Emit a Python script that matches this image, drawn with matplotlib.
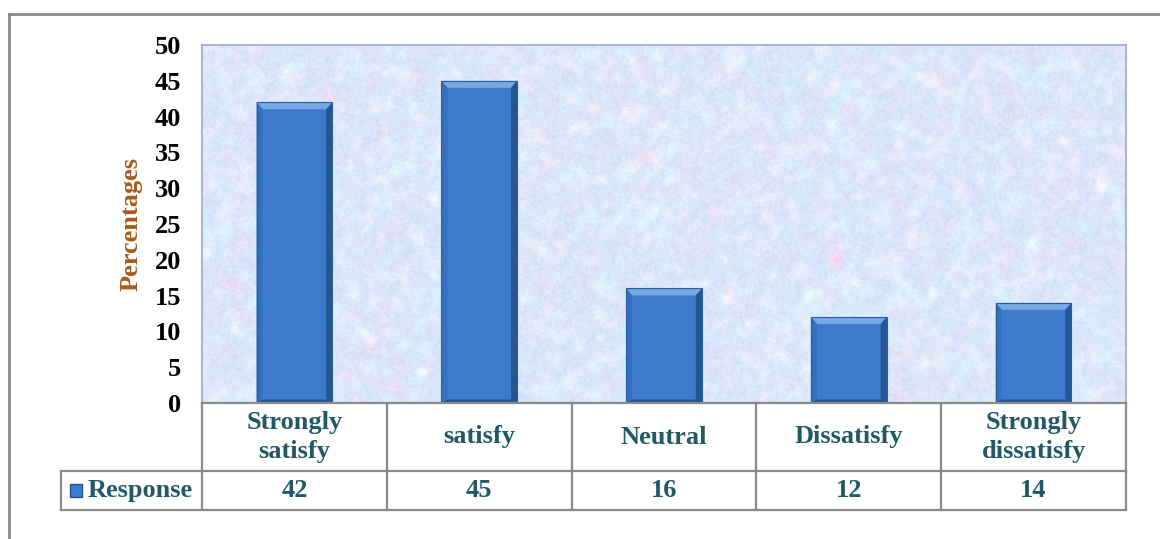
import numpy as np
import matplotlib
matplotlib.use("Agg")
import matplotlib.pyplot as plt
from matplotlib.lines import Line2D
from matplotlib.patches import Polygon, Rectangle
from matplotlib.transforms import blended_transform_factory

CATEGORIES = ["Strongly\nsatisfy", "satisfy", "Neutral", "Dissatisfy", "Strongly\ndissatisfy"]
RESPONSE = [42, 45, 16, 12, 14]
SERIES_NAME = "Response"
Y_TICKS = [0, 5, 10, 15, 20, 25, 30, 35, 40, 45, 50]
Y_LABEL = "Percentages"

W, H = 1160, 539
FONT = "Liberation Serif"
FS = 19
TEAL = "#215868"
GRID_GRAY = "#8a8a8a"
BAR_MAIN = "#3C7BCB"


def fx(px):
    return px / W


def fy(py):
    return 1 - py / H


def smooth_noise(rng, shape, k):
    a = rng.random(shape)
    # cheap box blur via cumulative sums, twice
    for _ in range(2):
        a = np.cumsum(np.pad(a, ((k, k), (0, 0)), mode="wrap"), axis=0)
        a = (a[2 * k:] - a[:-2 * k]) / (2 * k)
        a = np.cumsum(np.pad(a, ((0, 0), (k, k)), mode="wrap"), axis=1)
        a = (a[:, 2 * k:] - a[:, :-2 * k]) / (2 * k)
    a = (a - a.min()) / (a.max() - a.min())
    return a


def texture():
    rng = np.random.default_rng(7)
    shape = (180, 460)
    n1 = smooth_noise(rng, shape, 3)
    n2 = smooth_noise(rng, shape, 3)
    n3 = smooth_noise(rng, shape, 2)
    fine = rng.random(shape)
    base = np.array([0.84, 0.89, 0.98])
    pink = np.array([0.96, 0.84, 0.95])
    cyan = np.array([0.80, 0.95, 0.99])
    white = np.array([0.98, 0.98, 1.0])
    img = base[None, None, :] * np.ones(shape + (3,))
    img += (pink - base)[None, None, :] * (n1[..., None] ** 3) * 1.3
    img += (cyan - base)[None, None, :] * (n2[..., None] ** 3) * 1.3
    img += (white - base)[None, None, :] * (n3[..., None] ** 3)
    img += 0.05 * (fine[..., None] - 0.5)
    return np.clip(img, 0, 1)


fig = plt.figure(figsize=(W / 100, H / 100), dpi=100)
fig.patch.set_facecolor("white")

ax_left, ax_right, ax_top, ax_bottom = 202, 1126, 45, 403
ax = fig.add_axes([fx(ax_left), fy(ax_bottom), fx(ax_right - ax_left), (ax_bottom - ax_top) / H])

x = np.arange(len(CATEGORIES))
ax.set_xlim(-0.5, len(CATEGORIES) - 0.5)
ax.set_ylim(0, 50)

ax.imshow(texture(), extent=(-0.5, len(CATEGORIES) - 0.5, 0, 50), aspect="auto",
          interpolation="bilinear", zorder=0)

bar_w = 0.41
bars = ax.bar(x, RESPONSE, width=bar_w, color=BAR_MAIN, zorder=2, linewidth=0)

# bevel shading on each bar, sizes derived from bar geometry
bx = bar_w * 6 / 75
by = 50 * 7 / (ax_bottom - ax_top)
for b in bars:
    x0, x1 = b.get_x(), b.get_x() + b.get_width()
    top = b.get_height()
    ax.add_patch(Polygon([[x0, top], [x1, top], [x1 - bx, top - by], [x0 + bx, top - by]],
                         closed=True, color="#76A8E6", lw=0, zorder=3))
    ax.add_patch(Polygon([[x0, 0], [x0, top], [x0 + bx, top - by], [x0 + bx, by * 0.5]],
                         closed=True, color="#3470BD", lw=0, zorder=3))
    ax.add_patch(Polygon([[x1, 0], [x1, top], [x1 - bx, top - by], [x1 - bx, by * 0.5]],
                         closed=True, color="#255592", lw=0, zorder=3))
    ax.add_patch(Polygon([[x0, 0], [x1, 0], [x1 - bx, by * 0.5], [x0 + bx, by * 0.5]],
                         closed=True, color="#24518A", lw=0, zorder=3))
    ax.add_patch(Rectangle((x0, 0), x1 - x0, top, fill=False, ec="#2A5C9C", lw=0.8, zorder=4))

ax.set_xticks([])
ax.set_yticks(Y_TICKS)
ax.set_yticklabels([str(t) for t in Y_TICKS], fontfamily=FONT, fontweight="bold", fontsize=FS)
ax.tick_params(axis="y", length=0, pad=15)
for side in ["top", "right", "left"]:
    ax.spines[side].set_color("#9AA6DA")
    ax.spines[side].set_linewidth(1.2)
ax.spines["bottom"].set_visible(False)

ax.set_ylabel(Y_LABEL, fontfamily=FONT, fontweight="bold", fontsize=FS, color="#AA5A18")
ax.yaxis.set_label_coords((143 - ax_left) / (ax_right - ax_left), 0.5)

# outer chart frame
fig.add_artist(Line2D([fx(9), fx(9)], [fy(14), 0], color="#8a8a8a", lw=2, transform=fig.transFigure))
fig.add_artist(Line2D([fx(9), 1], [fy(14), fy(14)], color="#8a8a8a", lw=2, transform=fig.transFigure))

# data table below the plot
row1, row2, row3 = 403, 471, 510
key_left = 61
col_edges = np.arange(len(CATEGORIES) + 1) - 0.5
tr = blended_transform_factory(ax.transData, fig.transFigure)


def hline(x0, x1, y, transform):
    fig.add_artist(Line2D([x0, x1], [fy(y), fy(y)], color=GRID_GRAY, lw=1.6, transform=transform))


hline(col_edges[0], col_edges[-1], row1, tr)
hline(fx(key_left), fx(ax_right), row2, fig.transFigure)
hline(fx(key_left), fx(ax_right), row3, fig.transFigure)
for e in col_edges:
    fig.add_artist(Line2D([e, e], [fy(row1), fy(row3)], color=GRID_GRAY, lw=1.6, transform=tr))
fig.add_artist(Line2D([fx(key_left), fx(key_left)], [fy(row2), fy(row3)], color=GRID_GRAY, lw=1.6,
                      transform=fig.transFigure))

for xi, cat, val in zip(x, CATEGORIES, RESPONSE):
    fig.text(xi, fy((row1 + row2) / 2), cat, transform=tr, ha="center", va="center",
             fontfamily=FONT, fontweight="bold", fontsize=FS, color=TEAL, linespacing=1.3)
    fig.text(xi, fy((row2 + row3) / 2), str(val), transform=tr, ha="center", va="center",
             fontfamily=FONT, fontweight="bold", fontsize=FS, color=TEAL)

# legend key and series name
fig.add_artist(Rectangle((fx(70), fy(497)), fx(12), 13 / H, facecolor=BAR_MAIN, edgecolor="#23528F",
                         lw=1, transform=fig.transFigure))
fig.text(fx(88), fy((row2 + row3) / 2), SERIES_NAME, ha="left", va="center",
         fontfamily=FONT, fontweight="bold", fontsize=FS, color=TEAL)

fig.savefig("out.png", dpi=100, facecolor="white")
